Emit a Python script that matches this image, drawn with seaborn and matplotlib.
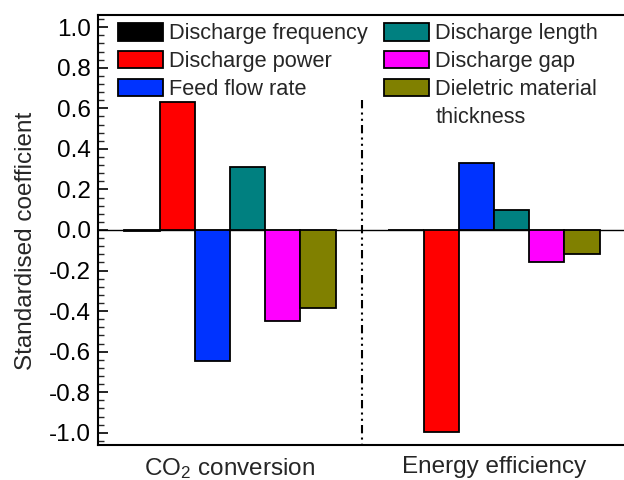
import matplotlib
matplotlib.use("Agg")
import matplotlib.pyplot as plt
from matplotlib.ticker import MultipleLocator
from matplotlib.patches import Rectangle
import seaborn as sns
import pandas as pd

groups = ["CO$_2$ conversion", "Energy efficiency"]
params = ["Discharge frequency", "Discharge power", "Feed flow rate",
          "Discharge length", "Discharge gap", "Dieletric material"]
extra_label = "thickness"
co2_values = [-0.005, 0.63, -0.645, 0.31, -0.45, -0.385]
energy_values = [-0.002, -0.995, 0.33, 0.098, -0.158, -0.12]
colors = ["#000000", "#ff0000", "#0033ff", "#008080", "#ff00ff", "#808000"]
yticks = [-1.0, -0.8, -0.6, -0.4, -0.2, 0.0, 0.2, 0.4, 0.6, 0.8, 1.0]

rows = []
for g, vals in zip(groups, [co2_values, energy_values]):
    for p, v in zip(params, vals):
        rows.append({"group": g, "param": p, "value": v})
df = pd.DataFrame(rows)

sns.set_theme(style="white")
plt.rcParams["font.family"] = ["Liberation Sans", "DejaVu Sans"]
plt.rcParams["mathtext.default"] = "regular"

fig = plt.figure(figsize=(6.24, 4.8), dpi=100)
ax = fig.add_axes([98/624, 35/480, 528/624, 430/480])

sns.barplot(data=df, x="group", y="value", hue="param", order=groups,
            hue_order=params, palette=colors, edgecolor="black",
            linewidth=1.3, width=0.8, ax=ax, saturation=1)

ax.axhline(0, color="black", lw=1.0, zorder=0.5)
ax.plot([0.5, 0.5], [0.64, -1.06], color="black", lw=1.5,
        dashes=(4, 2, 1, 2, 1, 2), zorder=3)

ax.set_xlim(-0.5, 1.5)
ax.set_ylim(-1.06, 1.06)
ax.set_yticks(yticks)
ax.set_yticklabels([f"{t:.1f}" for t in yticks])
ax.yaxis.set_minor_locator(MultipleLocator(0.04))
ax.tick_params(axis="y", which="major", direction="in", length=7, width=1.2,
               labelsize=17.5, left=True, pad=5, colors="black")
ax.tick_params(axis="y", which="minor", direction="in", length=4, width=1.0,
               left=True)
ax.tick_params(axis="x", which="both", bottom=False, labelsize=17.5, pad=2)
ax.set_xlabel("")
ax.set_ylabel("Standardised coefficient", fontsize=17.5)
ax.yaxis.set_label_coords(-0.116, 0.475)

for side in ["top", "left", "bottom"]:
    ax.spines[side].set_visible(True)
    ax.spines[side].set_color("black")
    ax.spines[side].set_linewidth(1.5)
ax.spines["right"].set_visible(False)

if ax.get_legend() is not None:
    ax.get_legend().remove()
handles, labels = ax.get_legend_handles_labels()
blank = Rectangle((0, 0), 1, 1, fill=False, edgecolor="none", linewidth=0)
# column-major order: first column 3 entries + blank, second column 3 + continuation
leg_handles = handles[:3] + [blank] + handles[3:] + [blank]
leg_labels = labels[:3] + [""] + labels[3:] + [extra_label]
ax.legend(leg_handles, leg_labels, loc="upper left",
          bbox_to_anchor=(0.038, 0.981),
          ncol=2, frameon=False, fontsize=15.7, handlelength=2.06,
          handleheight=0.85, handletextpad=0.28, columnspacing=0.75,
          labelspacing=0.3, borderpad=0.0, borderaxespad=0)

fig.savefig("out.png", dpi=100)
